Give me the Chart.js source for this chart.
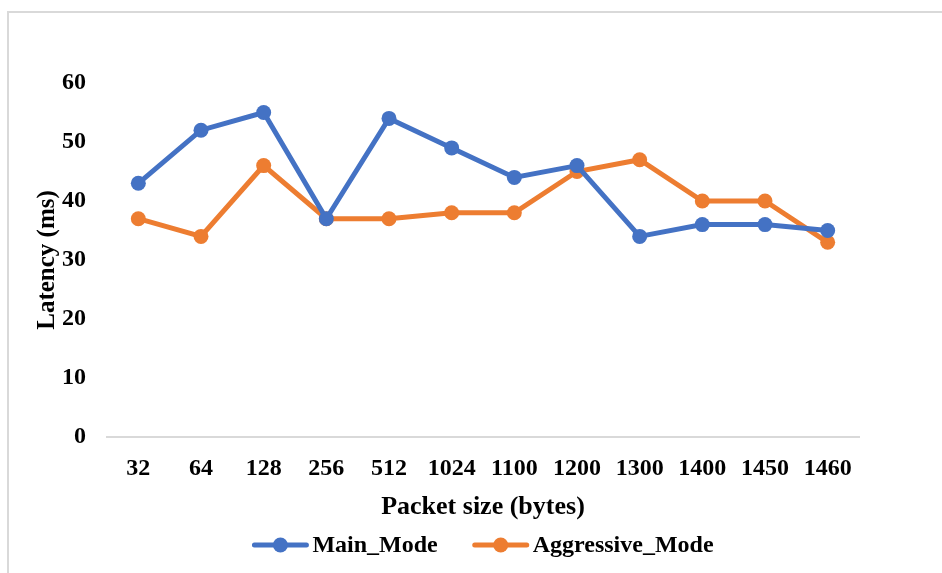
<!DOCTYPE html>
<html>
<head>
<meta charset="utf-8">
<script src="https://cdn.jsdelivr.net/npm/chart.js@4"></script>
<style>
    html, body { margin: 0; padding: 0; background: #ffffff; }
    #wrap { position: relative; width: 942px; height: 573px; overflow: hidden; }
    #frame {
        position: absolute; left: 7px; top: 11px; width: 960px; height: 600px;
        border-top: 2px solid #d9d9d9; border-left: 2px solid #d9d9d9;
        pointer-events: none;
    }
    canvas { position: absolute; left: 0; top: 0; }
</style>
</head>
<body>
<div id="wrap">
    <canvas id="latencyChart" width="942" height="573"></canvas>
    <div id="frame"></div>
</div>
<script>
(function () {
    const packetSizes = ["32", "64", "128", "256", "512", "1024", "1100", "1200", "1300", "1400", "1450", "1460"];
    const mainMode = [43, 52, 55, 37, 54, 49, 44, 46, 34, 36, 36, 35];
    const aggressiveMode = [37, 34, 46, 37, 37, 38, 38, 45, 47, 40, 40, 33];

    const blue = "#4472c4";
    const orange = "#ed7d31";
    const family = "'Liberation Serif', 'Times New Roman', serif";
    const tickFont = { family: family, weight: "bold", size: 24 };

    // legend drawn by hand so the line+dot marker and item spacing match the original
    const lineLegend = {
        id: "lineLegend",
        afterDraw(chart) {
            const ctx = chart.ctx;
            const area = chart.chartArea;
            const y = 545;
            const markerW = 56;
            const textGap = 4;
            const itemGap = 35;
            ctx.save();
            ctx.font = "bold 24px " + family;
            ctx.textBaseline = "middle";
            const items = chart.data.datasets.map((ds) => ({
                ds: ds,
                w: markerW + textGap + ctx.measureText(ds.label).width
            }));
            const total = items.reduce((s, it) => s + it.w, 0) + itemGap * (items.length - 1);
            let x = (area.left + area.right) / 2 - total / 2;
            items.forEach((it) => {
                const color = it.ds.borderColor;
                ctx.strokeStyle = color;
                ctx.lineWidth = 5;
                ctx.lineCap = "round";
                ctx.beginPath();
                ctx.moveTo(x + 2, y);
                ctx.lineTo(x + markerW - 2, y);
                ctx.stroke();
                ctx.fillStyle = color;
                ctx.beginPath();
                ctx.arc(x + markerW / 2, y, 7.5, 0, Math.PI * 2);
                ctx.fill();
                ctx.fillStyle = "#000000";
                ctx.textAlign = "left";
                ctx.fillText(it.ds.label, x + markerW + textGap, y + 1);
                x += it.w + itemGap;
            });
            ctx.restore();
        }
    };

    const canvas = document.getElementById("latencyChart");
    new Chart(canvas, {
        type: "line",
        data: {
            labels: packetSizes,
            datasets: [{
                label: "Main_Mode",
                data: mainMode,
                borderColor: blue,
                backgroundColor: blue,
                borderWidth: 5,
                pointRadius: 7.5,
                pointBorderWidth: 0,
                tension: 0
            }, {
                label: "Aggressive_Mode",
                data: aggressiveMode,
                borderColor: orange,
                backgroundColor: orange,
                borderWidth: 5,
                pointRadius: 7.5,
                pointBorderWidth: 0,
                tension: 0
            }]
        },
        options: {
            responsive: false,
            animation: false,
            layout: { padding: { top: 83, right: 83, left: 20, bottom: 50 } },
            plugins: {
                tooltip: { enabled: false },
                legend: { display: false }
            },
            scales: {
                x: {
                    offset: true,
                    grid: { display: false, drawTicks: false },
                    border: { display: true, color: "#d9d9d9", width: 2 },
                    ticks: { color: "#000000", font: tickFont, padding: 17, maxRotation: 0 },
                    title: {
                        display: true,
                        text: "Packet size (bytes)",
                        color: "#000000",
                        font: { family: family, weight: "bold", size: 26 },
                        padding: { top: 0, bottom: 0 }
                    },
                    afterFit: (scale) => { scale.height = 86; }
                },
                y: {
                    min: 0,
                    max: 60,
                    grid: { display: false, drawTicks: false },
                    border: { display: false },
                    ticks: { stepSize: 10, color: "#000000", font: tickFont, padding: 21 },
                    title: {
                        display: true,
                        text: "Latency (ms)",
                        color: "#000000",
                        font: { family: family, weight: "bold", size: 25 },
                        padding: { top: 13, bottom: 0 }
                    },
                    afterFit: (scale) => { scale.width = 87; }
                }
            }
        },
        plugins: [lineLegend]
    });
})();
</script>
</body>
</html>
